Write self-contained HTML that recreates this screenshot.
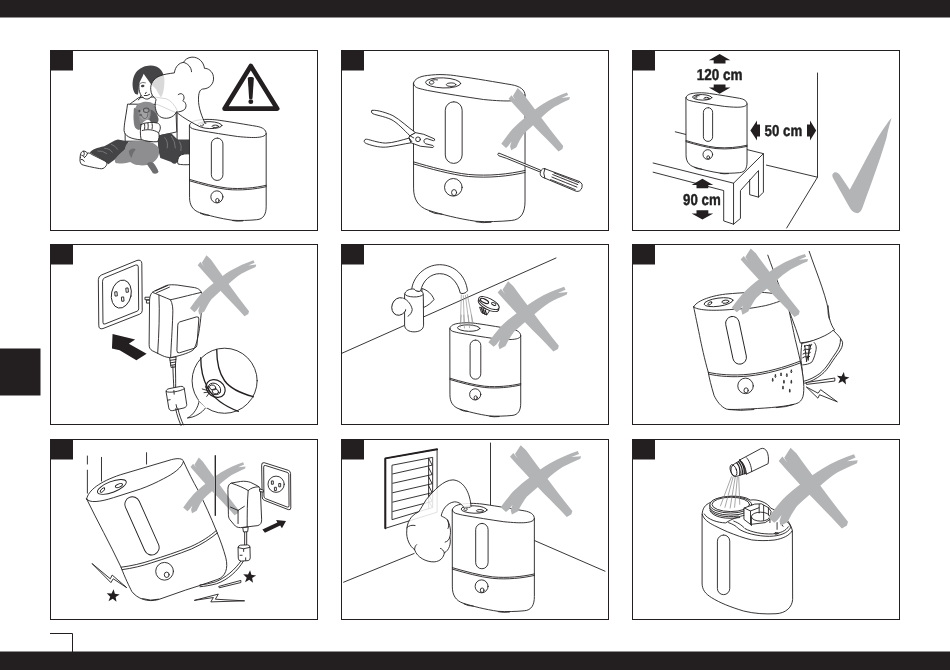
<!DOCTYPE html>
<html lang="en"><head><meta charset="utf-8"><title>Safety illustrations</title>
<style>
html,body{margin:0;padding:0;background:#fff;}
body{width:950px;height:670px;overflow:hidden;font-family:"Liberation Sans",sans-serif;}
svg{display:block;}
.ln{fill:none;stroke:#231f20;stroke-linecap:round;stroke-linejoin:round;}
.wf{fill:#fff;stroke:#231f20;stroke-linecap:round;stroke-linejoin:round;}
.gx{fill:#b3b4b6;stroke:none;}
.bk{fill:#231f20;stroke:none;}
text{text-rendering:geometricPrecision;font-family:"Liberation Sans",sans-serif;font-weight:bold;fill:#231f20;}
</style></head><body>
<svg width="950" height="670" viewBox="0 0 950 670">
<rect width="950" height="670" fill="#fff"/>
<rect x="0" y="0" width="950" height="17.5" fill="#231f20"/>
<rect x="0" y="651.5" width="950" height="18.5" fill="#231f20"/>
<rect x="0" y="348.5" width="40.5" height="47" fill="#231f20"/>
<path d="M50 633.5H72.5V652" fill="none" stroke="#231f20" stroke-width="1"/>
<rect x="50.5" y="50.5" width="267" height="180" fill="#fff" stroke="#231f20" stroke-width="1"/>
<rect x="341.5" y="50.5" width="267" height="180" fill="#fff" stroke="#231f20" stroke-width="1"/>
<rect x="632.5" y="50.5" width="267" height="180" fill="#fff" stroke="#231f20" stroke-width="1"/>
<rect x="50.5" y="244.5" width="267" height="180" fill="#fff" stroke="#231f20" stroke-width="1"/>
<rect x="341.5" y="244.5" width="267" height="180" fill="#fff" stroke="#231f20" stroke-width="1"/>
<rect x="632.5" y="244.5" width="267" height="180" fill="#fff" stroke="#231f20" stroke-width="1"/>
<rect x="50.5" y="439.5" width="267" height="180" fill="#fff" stroke="#231f20" stroke-width="1"/>
<rect x="341.5" y="439.5" width="267" height="180" fill="#fff" stroke="#231f20" stroke-width="1"/>
<rect x="632.5" y="439.5" width="267" height="180" fill="#fff" stroke="#231f20" stroke-width="1"/>
<!-- 00_lib.py -->

<!-- p1.py -->
<g transform="translate(115 60) scale(0.11940)" stroke-width="7.538" ><path class="wf" d="M195,318 C160,345 125,365 112,385 C95,430 88,520 85,600 L85,680 L520,680 L520,420 C500,380 470,340 430,325 L330,310Z"/></g>
<g transform="translate(70 110) scale(0.13684)" stroke-width="6.577" ><path class="wf" d="M420,-40 C410,40 395,100 395,150 C400,190 440,212 520,218 L780,160 L775,20 L640,-40Z"/></g>
<g transform="translate(115 60) scale(0.11940)" stroke-width="7.538" ><path d="M200,150 C192,230 200,285 235,315 C262,336 292,330 308,300 C330,285 345,265 350,240 L350,140 L260,100Z" fill="#fff"/><path class="ln" d="M202,200 C196,240 204,288 235,315 C262,336 292,330 308,300"/><path class="ln" d="M215,300 Q215,325 195,335"/><path d="M168,282 C140,240 138,160 175,105 C210,55 290,30 345,55 C390,75 414,120 414,170 C414,230 405,285 385,315 C370,290 350,260 345,245 L300,200 C280,170 255,140 240,115 C228,150 208,175 202,200 C196,240 200,270 190,292 Z" fill="#444345"/><ellipse cx="232" cy="218" rx="15" ry="10" fill="#444345" transform="rotate(-10 232 218)"/><path d="M210,196 q22,-14 48,-4" fill="none" stroke="#444345" stroke-width="6"/><path class="ln" d="M245,298 q25,5 45,-10 M262,270 l-8,12"/><path d="M178,385 C200,350 290,335 325,372 C345,395 360,440 355,490 C352,515 340,525 320,520 C300,510 285,500 270,500 C250,505 235,520 225,540 C215,570 195,585 170,570 C150,540 150,430 178,385Z" fill="#8e8e90"/></g>
<g transform="translate(125 95) scale(0.07463)" stroke-width="12.060" ><path d="M340,195 C390,205 440,270 450,320 C452,360 430,385 385,382 C355,375 335,350 325,325 C345,290 350,240 340,195Z" fill="#5e5e60"/><path d="M120,170 C110,260 115,380 150,450 C175,480 215,470 225,430 C200,380 180,300 175,200Z" fill="#7c7c7e"/><ellipse cx="262" cy="262" rx="62" ry="75" fill="#a2a2a4"/><ellipse cx="285" cy="205" rx="38" ry="30" fill="none" stroke="#555557" stroke-width="14"/><ellipse cx="192" cy="215" rx="14" ry="18" fill="#4a4a4c"/><path d="M215,250 C225,300 250,320 275,315 C300,305 310,270 305,245" fill="none" stroke="#5e5e60" stroke-width="12"/><ellipse cx="205" cy="268" rx="14" ry="10" fill="#4a4a4c"/></g>
<g transform="translate(70 110) scale(0.13684)" stroke-width="6.577" ><path d="M145,310 C160,290 200,275 250,265 C290,245 320,222 350,215 L430,230 L400,290 L330,360 L280,397 L250,370 C220,350 170,330 145,310Z" fill="#444345"/><path d="M640,190 C680,175 720,168 740,170 C760,190 775,210 790,215 L880,215 L880,335 L820,342 C800,360 785,385 770,392 C750,395 745,385 740,380 L660,350 L645,290Z" fill="#444345"/><path class="wf" d="M800,335 C820,320 850,318 880,322 L880,398 C850,402 810,400 790,395 C780,380 790,350 800,335Z"/><path class="wf" d="M75,345 C72,320 85,300 100,300 C115,300 120,310 128,315 C140,312 150,318 160,325 L250,370 C270,380 275,395 262,410 C250,428 235,432 215,428 C170,420 110,408 85,398 C72,385 70,365 75,345Z"/><path class="ln" d="M100,302 q10,18 2,30 M85,330 q18,5 22,18 M80,360 q20,0 25,15 M128,316 q-5,20 -20,30"/><path d="M330,360 C350,330 385,300 400,290 C405,260 415,240 430,235 C470,222 560,222 600,240 C635,255 655,280 650,300 C655,330 640,360 600,390 C615,410 635,435 640,452 C630,462 618,462 610,460 C595,440 580,420 570,400 C540,408 500,405 480,400 C465,395 450,388 440,380 C400,392 360,392 340,390 C328,385 325,372 330,360Z" fill="#8e8e90"/><path d="M430,300 C445,280 470,275 480,290 C470,300 455,320 450,350 C440,340 430,320 430,300Z M562,395 C572,378 595,374 610,388 C628,410 642,435 647,452 C642,466 620,470 606,463 C594,440 576,420 562,395Z" fill="#6e6e70"/><path class="wf" d="M520,105 C550,90 610,86 640,96 C662,104 668,135 648,165 C655,190 650,215 640,232 C600,236 550,226 520,216 C512,180 512,140 520,105Z"/><path class="ln" d="M528,150 C560,140 610,140 645,165 M600,100 q5,20 0,38 M570,98 q4,20 0,40 M545,102 q3,18 0,38"/><path d="M200,300 q40,-5 70,20 M250,280 q40,0 60,30 M300,250 q30,10 50,40 M690,200 q30,30 20,80 M740,190 q30,40 30,90 M800,230 q20,30 10,70" fill="none" stroke="#77777a" stroke-width="7"/></g>
<g transform="translate(115 60) scale(0.11940)" stroke-width="7.538" ><path class="ln" d="M0,0"/></g>
<g transform="translate(189.5 119.4) rotate(0) scale(0.17296) translate(-51.7 -57)" stroke-width="5.203"><path class="wf" d="M51.7,91 C55,75 75,64 107,60.4 C130,57.5 150,56.5 165,57 C190,57.5 210,60 223,62 C300,73 380,87 440,97 C475,103 495,117 495,140 L495,560 C495,605 480,634 440,637 C400,641 340,643 300,640 C230,630 160,612 110,596 C70,582 52,552 52,510 Z"/><path class="ln" d="M51.7,91 C52,104 65,110 78,113 C90,116 100,118.5 107,120 C180,133 260,146 330,156 C380,161 420,163 445,161 C478,158 495,150 495,138"/><path class="ln" d="M52,404 C120,424 200,446 270,454 C350,461 430,453 495,438"/><path class="ln" d="M52,412 C120,432 200,454 270,462 C350,469 430,461 495,446"/><rect class="ln" x="178" y="165" width="67" height="245" rx="33.5"/><circle class="ln" cx="210" cy="505" r="35"/><ellipse class="ln" cx="213" cy="526" rx="10" ry="12"/><ellipse class="ln" cx="169.5" cy="90" rx="70" ry="20" transform="rotate(2 169.5 90)"/><path class="ln" d="M147,78 C135,76 120,78 115,86 C112,93 120,97 128,94 C136,90 134,82 126,82"/><ellipse class="ln" cx="201" cy="97" rx="19" ry="7"/><path class="ln" d="M115,600 q20,12 50,12 M300,642 q25,6 60,2" /></g>
<g transform="translate(140 55) scale(0.11936)" stroke-width="7.540" ><path d="M545,572 C520,520 488,440 490,370 C490,320 500,290 525,285 C580,285 625,240 615,180 C608,135 570,110 540,112 C535,60 490,15 435,18 C400,20 375,40 365,62 C330,65 295,95 288,150 C250,155 200,160 160,178 C115,198 85,240 90,290 C92,330 110,350 135,372 C120,420 125,480 165,515 C210,545 280,530 305,478 C340,510 400,548 490,595Z" fill="#fff" fill-opacity="0.8" stroke="none"/><path class="ln" d="M545,572 C520,520 488,440 490,370 C490,320 500,290 525,285 C580,285 625,240 615,180 C608,135 570,110 540,112 C535,60 490,15 435,18 C400,20 375,40 365,62 C330,65 295,95 288,150 C250,155 200,160 160,178 C115,198 85,240 90,290 C92,330 110,350 135,372 C120,420 125,480 165,515 C210,545 280,530 305,478 C340,510 400,548 490,595"/><path class="ln" d="M365,62 C400,70 430,100 432,140 M320,332 C340,315 365,325 368,350 C372,365 365,378 358,382 C385,395 395,430 375,455 C360,470 330,478 305,478"/></g>
<g transform="translate(215 55) scale(0.08953)"><path d="M400,122 L695,599 L107,599Z" fill="#fff" stroke="#231f20" stroke-width="52" stroke-linejoin="round"/><path d="M366,262 C366,240 434,240 434,262 L419,482 C418,495 382,495 381,482Z" fill="#231f20"/><circle cx="400" cy="521" r="27" fill="#231f20"/></g>
<!-- p2.py -->
<g transform="translate(413.5 74.6) rotate(0) scale(0.25159) translate(-51.7 -57)" stroke-width="3.577"><path class="wf" d="M51.7,91 C55,75 75,64 107,60.4 C130,57.5 150,56.5 165,57 C190,57.5 210,60 223,62 C300,73 380,87 440,97 C475,103 495,117 495,140 L495,560 C495,605 480,634 440,637 C400,641 340,643 300,640 C230,630 160,612 110,596 C70,582 52,552 52,510 Z"/><path class="ln" d="M51.7,91 C52,104 65,110 78,113 C90,116 100,118.5 107,120 C180,133 260,146 330,156 C380,161 420,163 445,161 C478,158 495,150 495,138"/><path class="ln" d="M52,404 C120,424 200,446 270,454 C350,461 430,453 495,438"/><path class="ln" d="M52,412 C120,432 200,454 270,462 C350,469 430,461 495,446"/><rect class="ln" x="178" y="165" width="67" height="245" rx="33.5"/><circle class="ln" cx="210" cy="505" r="35"/><ellipse class="ln" cx="213" cy="526" rx="10" ry="12"/><ellipse class="ln" cx="169.5" cy="90" rx="70" ry="20" transform="rotate(2 169.5 90)"/><path class="ln" d="M147,78 C135,76 120,78 115,86 C112,93 120,97 128,94 C136,90 134,82 126,82"/><ellipse class="ln" cx="201" cy="97" rx="19" ry="7"/><path class="ln" d="M115,600 q20,12 50,12 M300,642 q25,6 60,2" /></g>
<g transform="translate(355 100) scale(0.09473)" stroke-width="9.500" ><path class="wf" d="M180,110 C200,100 300,120 400,165 C480,210 560,290 640,345 L580,378 C520,320 450,240 380,205 C300,170 220,160 190,145 C170,135 168,118 180,110 Z"/><path class="wf" d="M105,420 C90,430 95,450 120,460 C200,490 280,505 350,495 C430,485 520,462 592,452 L572,402 C500,420 400,455 320,455 C240,450 160,420 130,415 C115,412 108,416 105,420Z"/><path class="wf" d="M580,378 L640,345 L725,362 L838,410 Q850,428 828,430 L762,408 Q738,404 728,428 Q724,448 745,462 L822,480 Q838,492 822,502 L690,488 L592,452 L572,402Z"/><circle class="ln" cx="665" cy="415" r="25"/><path class="ln" d="M580,378 L620,400 M572,402 L600,440"/></g>
<g transform="translate(534.4029850746268 117.2089552238806) rotate(-1) scale(0.11940 0.11940) translate(-330 -320)"><path d="M117,161 L141,132 L172,172 L153,140 L194,74 L233,112 C280,180 330,248 383,320 C440,400 500,480 567,566 L560,590 L527,610 C460,535 395,470 325,395 C250,310 180,235 117,161Z" fill="#b3b4b6"/><path d="M606,117 L616,139 L560,163 L630,156 L625,176 C580,195 540,215 500,236 C460,262 420,295 383,330 C330,375 280,420 238,459 C215,490 195,525 175,568 L131,593 L122,560 L135,520 L108,556 L88,573 L49,538 C80,495 110,455 141,419 C180,380 225,340 267,310 C310,275 355,240 403,211 C470,170 540,140 606,117Z" fill="#b3b4b6"/></g>
<g transform="translate(490 60) scale(0.20907)" stroke-width="4.305" ><path class="wf" d="M40,446 Q33,452 42,458 L78,470 L238,535 L242,527 L84,462 Z"/><path class="wf" d="M262,520 L430,582 Q446,592 440,610 Q432,632 412,628 L250,560 Q236,552 242,534 Q248,516 262,520Z"/><path class="ln" d="M300,548 L420,596 M296,560 L416,608 M306,540 L428,588 M290,572 L408,620" stroke-dasharray="3 3"/><path class="ln" d="M262,520 Q252,540 262,565"/></g>
<!-- p3.py -->
<path class="ln" d="M817.5,73 V177.2 L786.7,228 M817.5,177.2 L766.4,165.1" stroke-width="0.9"/>
<g transform="translate(640 120) scale(0.16412)" stroke-width="5.484" ><path class="wf" d="M215,72 L752,205 L752,440 L722,470 L668,455 L668,365 L612,430 L612,600 L570,635 L510,615 L510,430 L80,318 L80,262Z" style="stroke:none"/><path class="ln" d="M215,72 L752,205 L752,440 L722,470 L668,455 L668,365 M722,470 L722,308 L612,430 L612,600 L570,635 L510,615 L510,430 L80,318 M80,262 L570,385 L752,205 M570,385 L570,635"/></g>
<g transform="translate(686.0 92.8) rotate(0) scale(0.13771) translate(-51.7 -57)" stroke-width="6.535"><path class="wf" d="M51.7,91 C55,75 75,64 107,60.4 C130,57.5 150,56.5 165,57 C190,57.5 210,60 223,62 C300,73 380,87 440,97 C475,103 495,117 495,140 L495,560 C495,605 480,634 440,637 C400,641 340,643 300,640 C230,630 160,612 110,596 C70,582 52,552 52,510 Z"/><path class="ln" d="M51.7,91 C52,104 65,110 78,113 C90,116 100,118.5 107,120 C180,133 260,146 330,156 C380,161 420,163 445,161 C478,158 495,150 495,138"/><path class="ln" d="M52,404 C120,424 200,446 270,454 C350,461 430,453 495,438"/><path class="ln" d="M52,412 C120,432 200,454 270,462 C350,469 430,461 495,446"/><rect class="ln" x="178" y="165" width="67" height="245" rx="33.5"/><circle class="ln" cx="210" cy="505" r="35"/><ellipse class="ln" cx="213" cy="526" rx="10" ry="12"/><ellipse class="ln" cx="169.5" cy="90" rx="70" ry="20" transform="rotate(2 169.5 90)"/><path class="ln" d="M147,78 C135,76 120,78 115,86 C112,93 120,97 128,94 C136,90 134,82 126,82"/><ellipse class="ln" cx="201" cy="97" rx="19" ry="7"/><path class="ln" d="M115,600 q20,12 50,12 M300,642 q25,6 60,2" /></g>
<path d="M719.6,54 L730.4,60.3 L725.5,60.3 L725.5,63.4 L713.7,63.4 L713.7,60.3 L708.8000000000001,60.3Z" fill="#231f20"/>
<path d="M719.6,93.8 L730.4,87.4 L725.5,87.4 L725.5,84.5 L713.7,84.5 L713.7,87.4 L708.8000000000001,87.4Z" fill="#231f20"/>
<text style="filter:grayscale(1)" x="696.7" y="79.7" font-size="15.8" stroke="#231f20" stroke-width="0.45" textLength="45.8" lengthAdjust="spacingAndGlyphs">120 cm</text>
<path d="M702.4111797903789,178.72883633431874 L713.2111797903789,184.90997043805427 L708.3111797903789,184.90997043805427 L708.3111797903789,188.13490997043806 L696.511179790379,188.13490997043806 L696.511179790379,184.90997043805427 L691.611179790379,184.90997043805427Z" fill="#231f20"/>
<path d="M702.4111797903789,219.5780704111798 L713.2111797903789,213.39693630744424 L708.3111797903789,213.39693630744424 L708.3111797903789,210.17199677506048 L696.511179790379,210.17199677506048 L696.511179790379,213.39693630744424 L691.611179790379,213.39693630744424Z" fill="#231f20"/>
<text style="filter:grayscale(1)" x="683.1" y="205.1" font-size="15.8" stroke="#231f20" stroke-width="0.45" textLength="37.6" lengthAdjust="spacingAndGlyphs">90 cm</text>
<path d="M750.4,130.4 L757,140.4 L757,136.4 L760,136.4 L760,124.4 L757,124.4 L757,120.4Z" fill="#231f20"/>
<path d="M816.2,130.4 L810,140.4 L810,136.4 L807,136.4 L807,124.4 L810,124.4 L810,120.4Z" fill="#231f20"/>
<text style="filter:grayscale(1)" x="764.6" y="136" font-size="15.8" stroke="#231f20" stroke-width="0.45" textLength="37.6" lengthAdjust="spacingAndGlyphs">50 cm</text>
<g transform="translate(810 100) scale(0.19417)" stroke-width="4.635" ><path d="M420,92 C410,130 400,160 395,190 C380,250 320,420 270,555 C262,578 250,585 240,582 C225,580 215,572 208,560 C180,510 140,440 118,400 C112,388 115,378 125,373 C140,370 150,380 160,395 L205,462 C230,420 300,280 340,210 C370,160 400,115 420,92Z" fill="#b3b4b6"/></g>
<!-- p4.py -->
<g transform="translate(90 250) scale(0.20894)" stroke-width="4.307" ><path class="wf" d="M40,140 Q40,126 54,120 L225,50 Q246,44 248,64 L250,290 Q250,302 238,307 L62,376 Q42,382 42,362Z"/><path class="ln" d="M60,148 Q60,138 70,133 L218,72 Q230,68 231,80 L233,282 Q233,290 225,293 L72,354 Q62,358 62,348Z"/><ellipse class="ln" cx="150" cy="211" rx="47" ry="68" transform="rotate(12 150 211)"/><rect class="ln" x="121" y="200" width="9" height="20" transform="rotate(-5 125 210)"/><rect class="ln" x="174" y="182" width="9" height="20" transform="rotate(-5 178 192)"/><rect class="ln" x="153" y="225" width="9" height="20" transform="rotate(-5 157 235)"/><path d="M108,402 L216,428 L186,449 L271,496 L222,528 L142,480 L105,472Z" fill="#231f20"/><path class="wf" d="M265,226 L292,226 L292,238 L265,238Z M272,240 L292,240 L292,254 L272,254Z"/><path class="wf" d="M285,245 C285,220 292,205 305,198 L365,170 C380,165 400,166 420,168 L500,180 C522,184 534,196 536,215 C538,260 530,340 520,400 C512,440 505,465 492,480 C470,495 420,508 392,514 C375,516 360,512 345,505 L298,482 C288,476 283,468 283,455 Z"/><path class="ln" d="M300,203 C330,215 360,228 385,238 C400,236 480,215 532,203 M385,238 C395,255 398,280 396,310 C394,380 388,460 386,514 M330,216 C334,300 330,400 324,494 M312,196 L372,170 M318,205 L380,178"/><path class="ln" d="M420,358 Q420,348 430,344 L510,320 Q522,318 521,330 L512,455 Q511,466 500,470 L428,492 Q416,495 416,483Z"/><path class="wf" d="M383,516 L412,512 L408,560 L390,562Z"/><path class="ln" d="M384,528 L411,524 M385,540 L410,536 M386,552 L409,548"/></g>
<g transform="translate(222.0 283.3) rotate(0) scale(0.11403 0.11403) translate(-330 -320)"><path d="M117,161 L141,132 L172,172 L153,140 L194,74 L233,112 C280,180 330,248 383,320 C440,400 500,480 567,566 L560,590 L527,610 C460,535 395,470 325,395 C250,310 180,235 117,161Z" fill="#b3b4b6"/><path d="M606,117 L616,139 L560,163 L630,156 L625,176 C580,195 540,215 500,236 C460,262 420,295 383,330 C330,375 280,420 238,459 C215,490 195,525 175,568 L131,593 L122,560 L135,520 L108,556 L88,573 L49,538 C80,495 110,455 141,419 C180,380 225,340 267,310 C310,275 355,240 403,211 C470,170 540,140 606,117Z" fill="#b3b4b6"/></g>
<g transform="translate(150 330) scale(0.14925)" stroke-width="6.030" ><path class="wf" d="M330,470 C325,520 290,570 250,590 C300,585 350,555 372,522Z"/><circle class="wf" cx="500" cy="340" r="218"/><path d="M325,470 L375,525 L420,500 L350,440Z" fill="#fff"/><path class="ln" d="M340,185 C340,260 355,330 385,385 C420,450 500,510 592,545 M447,130 C447,220 465,290 500,340 C540,395 610,425 692,447" stroke-width="9"/><ellipse class="ln" cx="440" cy="392" rx="68" ry="55" transform="rotate(35 440 392)" stroke-width="8"/><ellipse class="ln" cx="432" cy="395" rx="45" ry="36" transform="rotate(35 432 395)"/><ellipse class="ln" cx="420" cy="385" rx="22" ry="16" transform="rotate(20 420 385)"/><ellipse class="ln" cx="438" cy="412" rx="22" ry="16" transform="rotate(20 438 412)"/><path class="ln" d="M350,395 L392,408 M362,420 L395,415 M380,445 L398,420 M370,380 L395,402"/><path class="ln" d="M153,240 C155,300 158,350 160,395 M170,238 C172,300 172,350 172,392"/><path class="wf" d="M108,412 C108,402 115,396 128,393 L205,378 C220,376 228,382 230,394 L246,498 C247,510 240,518 228,522 L152,540 C138,542 128,536 126,524Z"/><path class="ln" d="M108,412 C125,425 200,412 230,394 M160,405 L162,430 M120,470 l15,-3 M175,500 L180,525"/><path class="ln" d="M172,528 C180,570 195,610 208,640 M186,524 C195,565 210,605 224,636"/></g>
<!-- p5.py -->
<path class="ln" d="M341.6,353.4 L556,258" stroke-width="0.9"/>
<g transform="translate(380 255) scale(0.14925)" stroke-width="6.030" ><path class="wf" d="M283,225 C320,235 350,265 362,298 C345,320 320,340 292,352Z"/><path class="wf" d="M212,238 C215,150 300,65 400,65 C500,65 575,140 586,240 C575,258 550,262 538,255 C520,180 470,125 400,125 C340,125 285,170 272,242Z"/><path class="wf" d="M165,262 C168,238 200,225 230,228 C232,240 262,250 272,240 C285,245 290,255 290,265 L292,470 C292,500 262,515 228,515 C195,515 167,500 165,475Z"/><path class="ln" d="M165,262 C175,285 270,290 290,265"/><ellipse class="wf" cx="130" cy="345" rx="50" ry="60" transform="rotate(20 130 345)"/><path class="wf" d="M150,288 C180,300 205,330 215,362 C212,385 200,400 188,408 C180,380 170,350 150,288Z" style="stroke:none"/><path class="ln" d="M160,290 C190,305 210,335 216,365 C214,385 202,402 188,410"/><path d="M545,265 L538,485 M558,270 L566,492 M572,268 L600,490 M584,262 L626,470" fill="none" stroke="#9a9a9c" stroke-width="5"/></g>
<g transform="translate(449.9 322.8) rotate(0) scale(0.15978) translate(-51.7 -57)" stroke-width="5.633"><path class="wf" d="M51.7,91 C55,75 75,64 107,60.4 C130,57.5 150,56.5 165,57 C190,57.5 210,60 223,62 C300,73 380,87 440,97 C475,103 495,117 495,140 L495,560 C495,605 480,634 440,637 C400,641 340,643 300,640 C230,630 160,612 110,596 C70,582 52,552 52,510 Z"/><path class="ln" d="M51.7,91 C52,104 65,110 78,113 C90,116 100,118.5 107,120 C180,133 260,146 330,156 C380,161 420,163 445,161 C478,158 495,150 495,138"/><path class="ln" d="M52,404 C120,424 200,446 270,454 C350,461 430,453 495,438"/><path class="ln" d="M52,412 C120,432 200,454 270,462 C350,469 430,461 495,446"/><rect class="ln" x="178" y="165" width="67" height="245" rx="33.5"/><circle class="ln" cx="210" cy="505" r="35"/><ellipse class="ln" cx="213" cy="526" rx="10" ry="12"/><ellipse class="ln" cx="169.5" cy="90" rx="70" ry="20" transform="rotate(2 169.5 90)"/><path class="ln" d="M115,600 q20,12 50,12 M300,642 q25,6 60,2" /></g>
<g transform="translate(380 255) scale(0.14925)" stroke-width="6.030" ><path d="M545,400 L539,485 M561,400 L566,492 M590,400 L600,490 M612,400 L622,478" fill="none" stroke="#9a9a9c" stroke-width="5"/></g>
<g transform="translate(380 255) scale(0.14925)" stroke-width="6.030" ><path class="wf" d="M668,352 L680,385 L715,402 L735,372Z"/><path class="ln" d="M680,358 L690,390 M692,364 L702,396 M705,370 L714,400" stroke-width="8"/><ellipse class="wf" cx="727" cy="336" rx="76" ry="30" transform="rotate(27 727 336)"/><ellipse class="wf" cx="730" cy="322" rx="76" ry="30" transform="rotate(27 730 322)"/><ellipse class="ln" cx="700" cy="308" rx="30" ry="12" transform="rotate(27 700 308)" stroke-width="8"/><ellipse class="ln" cx="762" cy="328" rx="16" ry="8" transform="rotate(27 762 328)"/></g>
<g transform="translate(526.6 313.5) rotate(0) scale(0.13612 0.13134) translate(-330 -320)"><path d="M117,161 L141,132 L172,172 L153,140 L194,74 L233,112 C280,180 330,248 383,320 C440,400 500,480 567,566 L560,590 L527,610 C460,535 395,470 325,395 C250,310 180,235 117,161Z" fill="#b3b4b6"/><path d="M606,117 L616,139 L560,163 L630,156 L625,176 C580,195 540,215 500,236 C460,262 420,295 383,330 C330,375 280,420 238,459 C215,490 195,525 175,568 L131,593 L122,560 L135,520 L108,556 L88,573 L49,538 C80,495 110,455 141,419 C180,380 225,340 267,310 C310,275 355,240 403,211 C470,170 540,140 606,117Z" fill="#b3b4b6"/></g>
<!-- p6.py -->
<g transform="translate(780 245) scale(0.25381)" stroke-width="3.546" ><path d="M-48,40 L115,25 C130,70 150,120 165,165 C180,210 192,250 195,290 C200,310 208,325 215,335 C190,360 150,378 80,386 C70,350 55,310 40,270 C20,220 -20,120 -48,40Z" fill="#fff"/><path class="ln" d="M115,25 C130,70 150,120 165,165 C180,210 192,250 195,290 C200,310 208,325 215,335 C190,360 150,378 80,386 C70,350 55,310 40,270 C20,220 -20,120 -48,40"/><path class="ln" d="M190,240 C188,265 190,280 195,292"/></g>
<g transform="translate(760 290) scale(0.16420)" stroke-width="5.481" ><path class="wf" d="M255,325 C300,318 350,300 395,278 C420,265 435,255 445,245 C470,268 495,295 503,318 C505,340 495,360 480,380 C465,400 450,420 432,448 C415,475 395,500 375,515 C345,540 310,558 272,568 L262,560 C262,520 255,470 250,430 C248,395 250,360 255,325Z"/><path class="ln" d="M490,300 C492,330 480,355 465,378 C450,400 435,420 420,445 C403,470 385,492 365,508 C335,530 300,548 266,556"/><path class="ln" d="M330,320 C345,335 345,355 338,380 C332,405 325,425 315,440 C300,450 280,455 260,456"/><path d="M268,345 q14,-12 30,-6 q14,4 18,-8 M264,368 q14,-12 30,-6 q14,4 18,-8 M260,391 q14,-12 30,-6 q14,4 18,-8 M258,414 q14,-12 30,-6 q12,4 16,-6 M272,335 l12,100 M300,330 l-6,100 M312,328 l-30,110" fill="none" stroke="#231f20" stroke-width="6"/></g>
<g transform="translate(780 245) scale(0.25381)" stroke-width="3.546" ><path class="wf" d="M104,542 L216,524 L216,536 L106,549Z"/><path class="wf" d="M105,560 L150,584 L160,570 L226,618 L156,590 L150,602 Z" /></g>
<polygon points="843.82,372.06 844.83,376.61 849.40,377.45 845.39,379.82 846.00,384.43 842.51,381.35 838.32,383.35 840.17,379.08 836.97,375.71 841.60,376.15" fill="#231f20"/>
<g transform="translate(685 285) scale(0.19402)" stroke-width="4.639" ><path class="wf" d="M45,113 C55,85 125,57 208,47 C260,42 300,40 340,38 C400,36 470,40 509,61 C520,85 530,110 537,135 C548,185 558,235 568,280 C578,320 586,355 594,390 C602,430 608,465 611,500 C614,530 612,560 608,575 C600,600 585,610 560,615 C500,630 400,636 300,640 C260,642 230,642 215,640 C185,628 165,600 150,570 C135,520 125,480 120,450 C100,380 85,310 75,260 C65,210 52,150 45,113Z"/><path class="ln" d="M45,113 C62,130 138,134 228,127 C260,124 295,123 326,121 C360,117 390,111 416,106 C445,99 470,90 485,85 C500,78 508,70 509,61"/><path class="ln" d="M120,450 C170,462 250,468 330,460 C420,450 510,425 594,392 M122,459 C170,471 250,477 330,469 C420,459 510,434 596,401"/><rect class="ln" x="228" y="160" width="70" height="250" rx="35" transform="rotate(-12 263 285)"/><circle class="ln" cx="312" cy="520" r="40"/><ellipse class="ln" cx="315" cy="543" rx="11" ry="13"/><ellipse class="ln" cx="173" cy="88.5" rx="75" ry="21" transform="rotate(-8 173 88.5)"/><ellipse class="ln" cx="128" cy="95" rx="12" ry="6" transform="rotate(-35 128 95)"/><ellipse class="ln" cx="208" cy="86" rx="18" ry="8" transform="rotate(-8 208 86)"/><path class="ln" d="M452,483 q6,8 0,14 q-6,-6 0,-14z"/><path class="ln" d="M466,463 q6,8 0,14 q-6,-6 0,-14z"/><path class="ln" d="M495,455 q6,8 0,14 q-6,-6 0,-14z"/><path class="ln" d="M525,459 q6,8 0,14 q-6,-6 0,-14z"/><path class="ln" d="M548,439 q6,8 0,14 q-6,-6 0,-14z"/><path class="ln" d="M510,493 q6,8 0,14 q-6,-6 0,-14z"/><path class="ln" d="M548,493 q6,8 0,14 q-6,-6 0,-14z"/><path class="ln" d="M505,523 q6,8 0,14 q-6,-6 0,-14z"/><path class="ln" d="M540,539 q6,8 0,14 q-6,-6 0,-14z"/><path class="ln" d="M225,642 q60,8 130,0 M470,632 q50,-2 90,-16"/></g>
<g transform="translate(768.6 279.9) rotate(0) scale(0.13134 0.12776) translate(-330 -320)"><path d="M117,161 L141,132 L172,172 L153,140 L194,74 L233,112 C280,180 330,248 383,320 C440,400 500,480 567,566 L560,590 L527,610 C460,535 395,470 325,395 C250,310 180,235 117,161Z" fill="#b3b4b6"/><path d="M606,117 L616,139 L560,163 L630,156 L625,176 C580,195 540,215 500,236 C460,262 420,295 383,330 C330,375 280,420 238,459 C215,490 195,525 175,568 L131,593 L122,560 L135,520 L108,556 L88,573 L49,538 C80,495 110,455 141,419 C180,380 225,340 267,310 C310,275 355,240 403,211 C470,170 540,140 606,117Z" fill="#b3b4b6"/></g>
<!-- p7.py -->
<g transform="translate(70 445) scale(0.26867)" stroke-width="3.350" ><path class="ln" d="M64.7,41 V71 M64.7,93.6 V179 M117.2,46 V134 M284.9,28.6 V71 M540,40 V262"/></g>
<g transform="translate(70 445) scale(0.26867)" stroke-width="3.350" ><path class="wf" d="M62,201 C67,169 112,136 187,111 L377,54.6 C402,48 420,50 422.4,61 C440,100 458,135 477,169 C500,215 525,270 545,320 C560,355 572,390 580,420 C590,460 578,490 550,500 C510,515 470,527 430,540 L330,575 C290,587 250,572 230,545 C220,525 205,495 190,455 C150,370 100,280 62,201Z"/><path class="ln" d="M62,201 C72,217 112,212 162,196 L262,164 C295,152 325,138 347,126 C387,106 417,84 422.4,61"/><path class="ln" d="M190,455 C230,450 270,440 300,430 C350,414 400,398 450,378 C490,360 520,340 545,318 M194,464 C232,459 272,449 302,439 C352,423 402,407 452,387 C492,369 522,349 549,327"/><rect class="ln" x="240" y="185" width="56" height="232" rx="28" transform="rotate(-24 268 301)"/><circle class="ln" cx="352" cy="470" r="33"/><ellipse class="ln" cx="360" cy="483" rx="9" ry="10"/><ellipse class="ln" cx="155.8" cy="156.2" rx="57" ry="20" transform="rotate(-21 155.8 156.2)"/><ellipse class="ln" cx="121" cy="168" rx="11" ry="5" transform="rotate(-45 121 168)"/><ellipse class="ln" cx="182" cy="151" rx="14" ry="6" transform="rotate(-21 182 151)"/><path class="ln" d="M270,572 q30,10 60,2"/><path class="wf" d="M83,442 L150,498 L157,484 L211,531 L161,498 L153,511Z"/><path class="wf" d="M555,526 L636,504 L636,512 L557,531Z"/><path class="wf" d="M464,578 L552,555 L541,574 L650,580 L524,584 L533,569Z"/></g>
<polygon points="113.59,589.23 114.87,593.84 119.63,594.47 115.63,597.12 116.50,601.83 112.75,598.85 108.54,601.13 110.22,596.64 106.74,593.34 111.53,593.55" fill="#231f20"/>
<g transform="translate(200 450) scale(0.25368)" stroke-width="3.548" ><path class="ln" d="M176,305 L176,375 M184,305 L184,375 M163,435 C140,470 100,505 60,520 C40,526 20,530 0,532 M171,438 C150,475 110,512 66,527 C40,534 20,537 0,539"/><path class="wf" d="M150,385 Q150,376 160,375 L188,374 Q197,375 197,384 L198,425 Q198,434 190,436 L162,438 Q152,438 151,428Z"/><path class="ln" d="M150,385 Q170,395 197,384 M172,390 v10 M158,415 h8 M180,425 v10"/><path class="wf" d="M243,58 Q243,48 253,50 L348,80 Q357,83 357,93 L358,228 Q358,238 348,235 L253,198 Q245,195 245,186Z"/><path class="ln" d="M251,66 Q251,59 258,61 L343,88 Q350,90 350,97 L351,220 Q351,227 344,225 L259,192 Q252,189 252,183Z"/><circle class="ln" cx="300" cy="135" r="32"/><rect class="ln" x="283" y="122" width="6" height="13"/><rect class="ln" x="312" y="132" width="6" height="13"/><rect class="ln" x="295" y="147" width="6" height="13"/><path d="M110,155 C110,140 115,133 125,130 L160,124 C175,122 190,124 200,128 L228,142 C236,148 238,152 238,160 L243,275 C243,288 238,295 228,298 L160,306 C148,306 140,302 135,295 L118,275 C113,268 112,262 112,255Z" fill="#fff"/></g>
<g transform="translate(213.4 484.0) rotate(0) scale(0.10746 0.10746) translate(-330 -320)"><path d="M117,161 L141,132 L172,172 L153,140 L194,74 L233,112 C280,180 330,248 383,320 C440,400 500,480 567,566 L560,590 L527,610 C460,535 395,470 325,395 C250,310 180,235 117,161Z" fill="#b3b4b6"/><path d="M606,117 L616,139 L560,163 L630,156 L625,176 C580,195 540,215 500,236 C460,262 420,295 383,330 C330,375 280,420 238,459 C215,490 195,525 175,568 L131,593 L122,560 L135,520 L108,556 L88,573 L49,538 C80,495 110,455 141,419 C180,380 225,340 267,310 C310,275 355,240 403,211 C470,170 540,140 606,117Z" fill="#b3b4b6"/></g>
<path class="ln" d="M215.5,455.7 V515.4" stroke-width="0.9"/>
<g transform="translate(200 450) scale(0.25368)" stroke-width="3.548" ><path class="ln" d="M110,155 C110,140 115,133 125,130 L160,124 C175,122 190,124 200,128 L228,142 C236,148 238,152 238,160 L243,275 C243,288 238,295 228,298 L160,306 C148,306 140,302 135,295 L118,275 C113,268 112,262 112,255Z"/><path class="ln" d="M125,131 C150,140 175,150 190,160 C200,150 215,145 232,145 M190,160 C186,200 186,260 186,303 M120,225 L150,238 L175,222 M150,238 L150,290"/><path class="wf" d="M236,154 L250,158 L250,166 L237,164Z"/><path class="wf" d="M170,306 L190,304 L188,322 L173,323Z"/><path d="M246,313 L305,286 L300,276 L339,280 L323,308 L316,298 L256,326Z" fill="#231f20"/></g>
<polygon points="250.09,570.23 251.37,574.84 256.13,575.47 252.13,578.12 253.00,582.83 249.25,579.85 245.04,582.13 246.72,577.64 243.24,574.34 248.03,574.55" fill="#231f20"/>
<!-- p8.py -->
<path class="ln" d="M490.5,443 V505 M343.6,582.2 L414.1,553.5 M533.9,540.3 L605,571.2" stroke-width="0.9"/>
<g transform="translate(380 445) scale(0.13435)" stroke-width="6.699" ><path class="wf" d="M40,100 L425,32 L425,500 L40,620Z"/><path class="ln" d="M425,32 L40,100 L40,620" stroke-width="14"/><path class="ln" d="M92,150 L392,92 L392,465 L92,555Z"/><path class="ln" d="M95,215 L388,150 L362,98"/><path class="ln" d="M95,285 L388,220 L362,168"/><path class="ln" d="M95,355 L388,288 L362,236"/><path class="ln" d="M95,425 L388,355 L362,303"/><path class="ln" d="M95,495 L388,420 L362,368"/><path class="ln" d="M362,100 V470 M362,418 L388,462"/></g>
<g transform="translate(452.3 503.4) rotate(0) scale(0.18514) translate(-51.7 -57)" stroke-width="4.861"><path class="wf" d="M51.7,91 C55,75 75,64 107,60.4 C130,57.5 150,56.5 165,57 C190,57.5 210,60 223,62 C300,73 380,87 440,97 C475,103 495,117 495,140 L495,560 C495,605 480,634 440,637 C400,641 340,643 300,640 C230,630 160,612 110,596 C70,582 52,552 52,510 Z"/><path class="ln" d="M51.7,91 C52,104 65,110 78,113 C90,116 100,118.5 107,120 C180,133 260,146 330,156 C380,161 420,163 445,161 C478,158 495,150 495,138"/><path class="ln" d="M52,404 C120,424 200,446 270,454 C350,461 430,453 495,438"/><path class="ln" d="M52,412 C120,432 200,454 270,462 C350,469 430,461 495,446"/><rect class="ln" x="178" y="165" width="67" height="245" rx="33.5"/><circle class="ln" cx="210" cy="505" r="35"/><ellipse class="ln" cx="213" cy="526" rx="10" ry="12"/><ellipse class="ln" cx="169.5" cy="90" rx="70" ry="20" transform="rotate(2 169.5 90)"/><path class="ln" d="M147,78 C135,76 120,78 115,86 C112,93 120,97 128,94 C136,90 134,82 126,82"/><ellipse class="ln" cx="201" cy="97" rx="19" ry="7"/><path class="ln" d="M115,600 q20,12 50,12 M300,642 q25,6 60,2" /></g>
<g transform="translate(395 465) scale(0.15674)" stroke-width="5.742" ><path d="M485,265 C480,180 440,100 370,95 C310,95 250,160 200,220 C180,250 165,280 150,300 C100,320 75,370 75,420 C70,470 95,520 125,540 C140,590 200,620 250,618 C290,615 310,590 315,560 C345,545 360,500 350,460 C360,420 350,380 335,350 C315,332 302,330 295,325 C300,290 330,240 380,235 C410,235 430,255 440,272 L485,265Z" fill="#fff" fill-opacity="0.85"/><path class="ln" d="M485,265 C480,180 440,100 370,95 C310,95 250,160 200,220 C180,250 165,280 150,300 C100,320 75,370 75,420 C70,470 95,520 125,540 C140,590 200,620 250,618 C290,615 310,590 315,560 C345,545 360,500 350,460 C360,420 350,380 335,350 C315,332 302,330 295,325 C300,290 330,240 380,235 C410,235 430,255 440,272"/><path class="ln" d="M75,400 C90,385 110,382 128,386 M335,350 C345,375 345,395 338,405 M350,460 C345,478 335,488 320,492 M315,560 C310,545 300,535 290,532 M125,540 C125,525 130,515 138,508"/></g>
<g transform="translate(539.5 478.1) rotate(0) scale(0.13851 0.13373) translate(-330 -320)"><path d="M117,161 L141,132 L172,172 L153,140 L194,74 L233,112 C280,180 330,248 383,320 C440,400 500,480 567,566 L560,590 L527,610 C460,535 395,470 325,395 C250,310 180,235 117,161Z" fill="#b3b4b6"/><path d="M606,117 L616,139 L560,163 L630,156 L625,176 C580,195 540,215 500,236 C460,262 420,295 383,330 C330,375 280,420 238,459 C215,490 195,525 175,568 L131,593 L122,560 L135,520 L108,556 L88,573 L49,538 C80,495 110,455 141,419 C180,380 225,340 267,310 C310,275 355,240 403,211 C470,170 540,140 606,117Z" fill="#b3b4b6"/></g>
<!-- p9.py -->
<g transform="translate(690 445) scale(0.26867)" stroke-width="3.350" ><path class="wf" d="M45,262 C45,235 57,222 76,214 C100,190 190,180 225,205 C250,200 290,215 300,235 C338,250 372,280 381,318 L382,575 C380,603 358,626 320,628 C280,630 240,628 200,618 C150,603 112,588 80,568 C56,553 45,538 45,515Z"/><rect class="ln" x="102" y="335" width="46" height="222" rx="23"/></g>
<g transform="translate(695 445) scale(0.14925)" stroke-width="6.030" ><path class="ln" d="M48,465 C60,500 90,520 130,540 C160,555 190,570 216,581 C270,603 330,625 380,636 C430,642 480,642 530,637 C590,628 635,605 651,575"/><path class="ln" d="M62,462 C85,500 150,520 205,522 C225,510 250,495 290,482 C310,476 325,472 335,470"/><path class="ln" d="M225,520 C250,530 275,540 290,560 C330,590 420,612 500,612 C570,610 620,590 640,555 C640,535 625,520 610,510"/><path class="ln" d="M260,510 C300,525 320,545 335,560 C380,585 450,598 520,596 C570,592 610,575 625,548"/><ellipse class="wf" cx="240" cy="412" rx="142" ry="58"/><ellipse class="wf" cx="240" cy="400" rx="140" ry="56"/><ellipse class="ln" cx="240" cy="398" rx="126" ry="48"/><path class="ln" d="M98,425 C110,470 200,490 290,476 M100,440 C120,485 210,500 300,486"/><path class="wf" d="M330,422 L400,396 L445,394 L492,420 L510,445 L500,500 L470,520 L372,532 L330,500Z"/><path class="ln" d="M330,422 L372,442 L372,532 M372,442 L430,420 L430,398 M430,420 L430,455 M460,405 L460,505 M492,420 L492,470"/><ellipse class="ln" cx="440" cy="480" rx="62" ry="30"/><path class="ln" d="M378,482 V540 M502,482 V520 M550,520 V565 M575,525 L590,545"/><ellipse class="ln" cx="545" cy="592" rx="12" ry="6"/><path d="M245,210 L170,410 M256,212 L200,420 M270,212 L235,425 M284,212 L265,420 M293,212 L300,400" fill="none" stroke="#8a8a8c" stroke-width="5"/><path class="wf" d="M300,100 L440,25 C475,12 500,55 490,125 L345,195 C320,190 298,140 300,100Z"/><path class="ln" d="M300,100 C320,110 340,150 345,195 M345,85 C362,100 378,140 380,178"/><path class="wf" d="M300,105 L262,128 C240,140 235,175 250,200 C258,212 270,212 285,208 L340,190 C335,150 320,115 300,105Z"/><ellipse class="ln" cx="258" cy="170" rx="20" ry="40" transform="rotate(-20 258 170)"/><path class="ln" d="M280,120 C298,140 305,170 300,202 M292,113 C312,135 320,165 316,197 M304,108 C322,128 332,160 330,192" stroke-width="9"/></g>
<g transform="translate(811.5 484.8) rotate(0) scale(0.15403 0.15045) translate(-330 -320)"><path d="M117,161 L141,132 L172,172 L153,140 L194,74 L233,112 C280,180 330,248 383,320 C440,400 500,480 567,566 L560,590 L527,610 C460,535 395,470 325,395 C250,310 180,235 117,161Z" fill="#b3b4b6"/><path d="M606,117 L616,139 L560,163 L630,156 L625,176 C580,195 540,215 500,236 C460,262 420,295 383,330 C330,375 280,420 238,459 C215,490 195,525 175,568 L131,593 L122,560 L135,520 L108,556 L88,573 L49,538 C80,495 110,455 141,419 C180,380 225,340 267,310 C310,275 355,240 403,211 C470,170 540,140 606,117Z" fill="#b3b4b6"/></g>
<rect x="50" y="50" width="23" height="20.5" fill="#231f20"/>
<rect x="341" y="50" width="23" height="20.5" fill="#231f20"/>
<rect x="632" y="50" width="23" height="20.5" fill="#231f20"/>
<rect x="50" y="244" width="23" height="20.5" fill="#231f20"/>
<rect x="341" y="244" width="23" height="20.5" fill="#231f20"/>
<rect x="632" y="244" width="23" height="20.5" fill="#231f20"/>
<rect x="50" y="439" width="23" height="20.5" fill="#231f20"/>
<rect x="341" y="439" width="23" height="20.5" fill="#231f20"/>
<rect x="632" y="439" width="23" height="20.5" fill="#231f20"/>
</svg>
</body></html>
